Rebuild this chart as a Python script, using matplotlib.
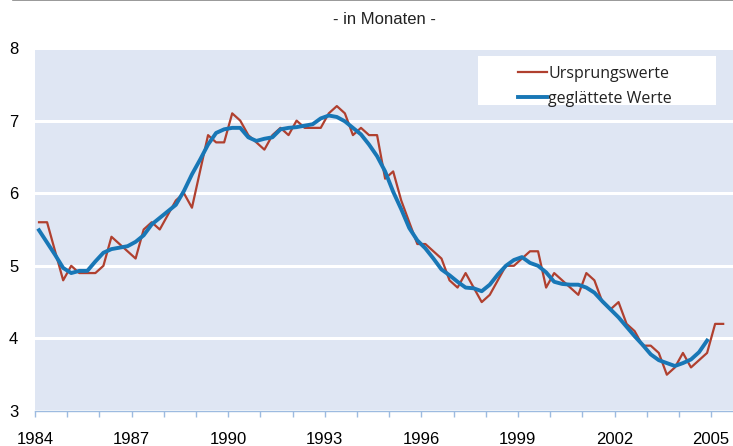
import numpy as np
import matplotlib
matplotlib.use("Agg")
import matplotlib.pyplot as plt
from matplotlib.lines import Line2D
from matplotlib.patches import Rectangle

plt.rcParams['font.family'] = ['Liberation Sans', 'DejaVu Sans']

# --- data: quarterly values, 1984Q1 .. 2005Q2 ---
start_year = 1984
raw = [5.6, 5.6, 5.2, 4.8, 5.0, 4.9, 4.9, 4.9, 5.0, 5.4, 5.3, 5.2,
       5.1, 5.5, 5.6, 5.5, 5.7, 5.9, 6.0, 5.8, 6.3, 6.8, 6.7, 6.7,
       7.1, 7.0, 6.8, 6.7, 6.6, 6.8, 6.9, 6.8, 7.0, 6.9, 6.9, 6.9,
       7.1, 7.2, 7.1, 6.8, 6.9, 6.8, 6.8, 6.2, 6.3, 5.9, 5.6, 5.3,
       5.3, 5.2, 5.1, 4.8, 4.7, 4.9, 4.7, 4.5, 4.6, 4.8, 5.0, 5.0,
       5.1, 5.2, 5.2, 4.7, 4.9, 4.8, 4.7, 4.6, 4.9, 4.8, 4.5, 4.4,
       4.5, 4.2, 4.1, 3.9, 3.9, 3.8, 3.5, 3.6, 3.8, 3.6, 3.7, 3.8,
       4.2, 4.2]
smooth = [5.49, 5.32, 5.15, 4.97, 4.90, 4.93, 4.93, 5.06, 5.18, 5.23, 5.25, 5.27,
          5.33, 5.42, 5.57, 5.66, 5.75, 5.84, 6.03, 6.26, 6.46, 6.67, 6.83, 6.88,
          6.90, 6.90, 6.77, 6.72, 6.75, 6.77, 6.88, 6.90, 6.91, 6.93, 6.95, 7.03,
          7.07, 7.05, 6.99, 6.90, 6.81, 6.67, 6.51, 6.30, 6.02, 5.78, 5.52, 5.35,
          5.24, 5.10, 4.95, 4.87, 4.78, 4.70, 4.69, 4.65, 4.74, 4.88, 5.00, 5.08,
          5.12, 5.04, 5.00, 4.91, 4.78, 4.75, 4.74, 4.74, 4.70, 4.63, 4.51, 4.40,
          4.29, 4.16, 4.03, 3.91, 3.78, 3.70, 3.66, 3.62, 3.66, 3.71, 3.81, 3.97]
year_ticks = [1984, 1987, 1990, 1993, 1996, 1999, 2002, 2005]

t_raw = start_year + 0.125 + 0.25 * np.arange(len(raw))
t_smooth = start_year + 0.125 + 0.25 * np.arange(len(smooth))

fig = plt.figure(figsize=(7.33, 4.46), dpi=100)
ax = fig.add_axes([35/733, 1 - 411/446, 698/733, 363/446])
ax.set_facecolor('#dfe6f3')

ax.plot(t_raw, raw, color='#b0402f', lw=1.6, label='Ursprungswerte', zorder=3)
ax.plot(t_smooth, smooth, color='#1877b6', lw=2.8, label='geglättete Werte', zorder=4)

ax.set_xlim(1984, 2005.68)
ax.set_ylim(3, 8)
ax.set_yticks([3, 4, 5, 6, 7, 8])
ax.set_xticks(year_ticks)
ax.set_xticks(np.arange(1984, 2006), minor=True)
ax.grid(axis='y', color='white', lw=2.2, zorder=1)
ax.set_axisbelow(True)
for s in ['left', 'right', 'top']:
    ax.spines[s].set_visible(False)
ax.spines['bottom'].set_color('#9dbbe0')
ax.spines['bottom'].set_linewidth(1.0)
ax.tick_params(axis='x', which='both', color='#9dbbe0', length=4, width=1.0,
               labelsize=12, pad=11)
ax.tick_params(axis='y', length=0, labelsize=12, pad=12)

# white legend box, a bit wider than matplotlib's own frame
ax.add_patch(Rectangle(((478-35)/698, (411-105)/363), (716-478)/698, 49/363,
                       transform=ax.transAxes, facecolor='white',
                       edgecolor='none', zorder=5))
leg = ax.legend(loc='upper left', bbox_to_anchor=((518-35)/698, (411-66)/363),
                frameon=False, fontsize=11.5, handlelength=1.8,
                handletextpad=0.1, borderpad=0, labelspacing=0.55,
                borderaxespad=0)
leg.set_zorder(6)
for txt in leg.get_texts():
    txt.set_family(['Open Sans', 'DejaVu Sans'])
    txt.set_color('#222222')

fig.text(384/733, 1 - 20/446, '- in Monaten -', ha='center', va='center',
         fontsize=12, color='#222222')
fig.add_artist(Line2D([13/733, 1], [0.999, 0.999], color='#888888', lw=1.2,
                      transform=fig.transFigure))

fig.savefig('out.png', dpi=100)
